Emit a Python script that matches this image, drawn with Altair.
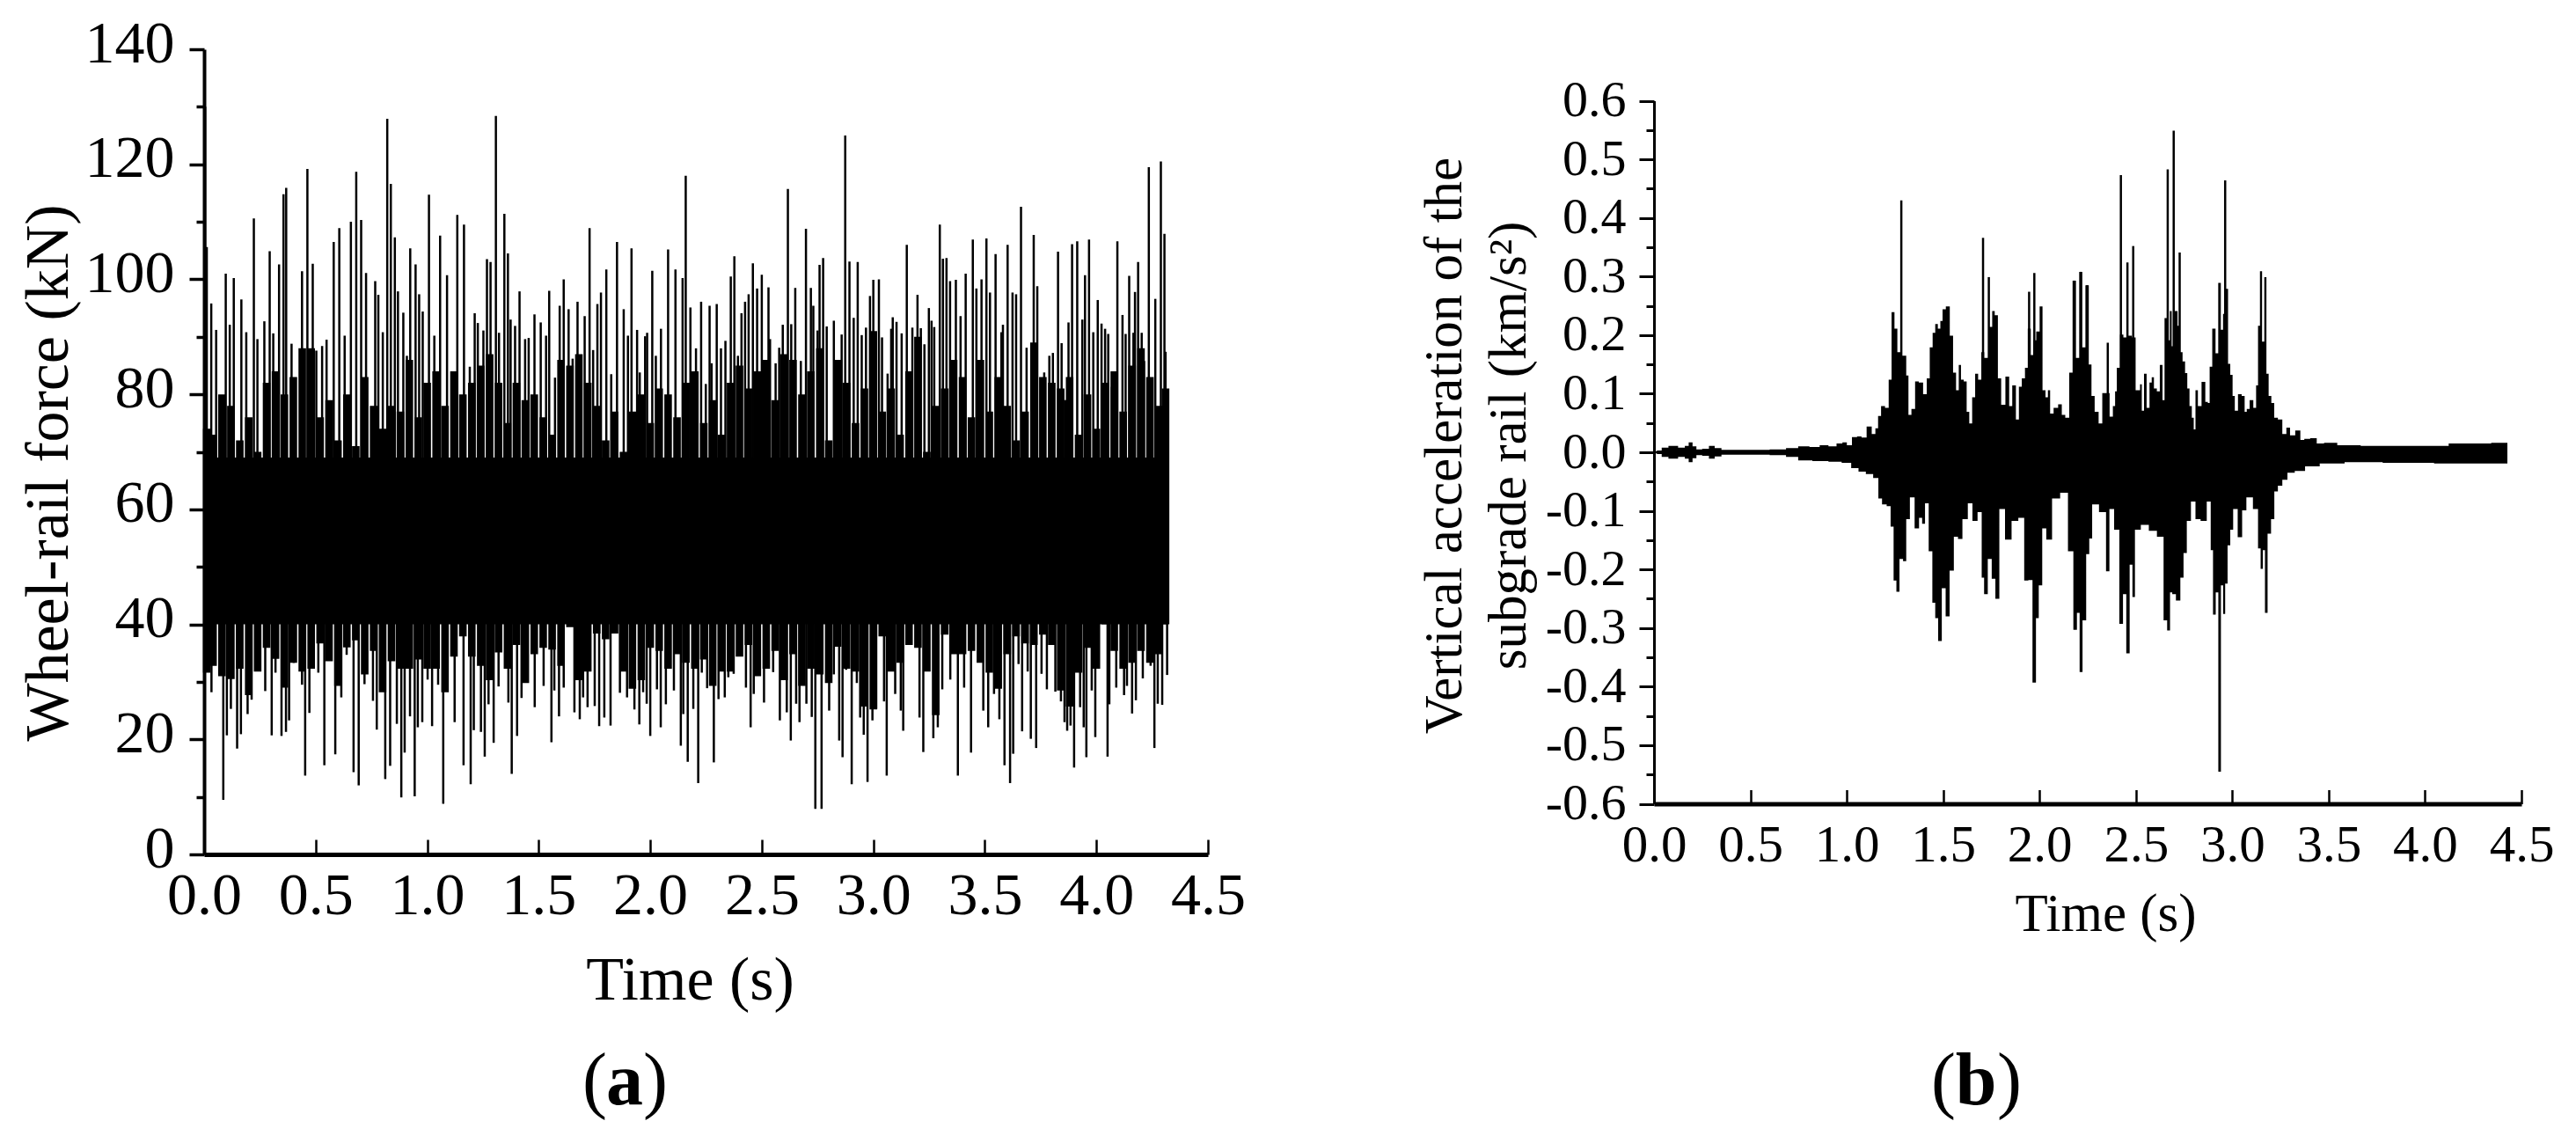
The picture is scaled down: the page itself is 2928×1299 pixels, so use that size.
import altair as alt
import pandas as pd

# ---------- Panel (a): wheel-rail force, peaks ----------
force_peak_time = [0.005,0.012,0.032,0.054,0.097,0.115,0.133,0.167,0.189,0.223,0.239,0.270,0.294,0.310,0.336,0.356,0.368,0.392,0.439,0.463,0.487,0.503,0.529,0.549,0.581,0.606,0.630,0.658,0.682,0.704,0.726,0.767,0.781,0.801,0.821,0.837,0.855,0.869,0.893,0.909,0.924,0.948,0.964,0.980,1.008,1.032,1.058,1.089,1.135,1.165,1.191,1.213,1.227,1.252,1.268,1.284,1.308,1.322,1.346,1.362,1.374,1.394,1.414,1.439,1.455,1.481,1.509,1.533,1.547,1.573,1.594,1.612,1.634,1.652,1.674,1.706,1.728,1.744,1.763,1.779,1.803,1.825,
1.851,1.881,1.900,1.916,1.941,1.953,1.977,1.986,2.009,2.025,2.048,2.080,2.113,2.145,2.159,2.180,2.205,2.228,2.249,2.266,2.275,2.298,2.317,2.337,2.361,2.377,2.393,2.409,2.425,2.441,2.460,2.479,2.500,2.530,2.537,2.562,2.578,2.594,2.617,2.632,2.650,2.675,2.698,2.720,2.731,2.750,2.759,2.775,2.791,2.823,2.845,2.858,2.874,2.893,2.912,2.930,2.948,2.967,2.985,3.000,3.025,3.039,3.064,3.080,3.087,3.104,3.127,3.150,3.175,3.198,3.213,3.229,3.249,3.261,3.273,3.298,3.312,3.328,3.344,3.370,3.391,3.414,3.446,3.462,3.485,3.507,3.523,3.548,3.574,3.581,3.602,3.624,3.640,3.662,3.687,3.719,3.735,3.766,3.789,3.805,3.828,3.844,3.860,3.875,3.891,3.914,3.937,3.949,3.967,3.986,4.006,4.023,4.039,4.053,4.069,4.094,4.117,4.131,4.147,4.166,4.173,4.187,4.203,4.214,4.235,4.264,4.289,4.305,4.310,4.319]
force_peak = [130.0,105.6,95.8,91.2,101.0,92.1,100.2,96.5,90.8,110.6,89.6,92.7,104.9,90.6,102.6,114.8,115.9,88.8,101.4,119.2,102.7,87.6,88.4,89.5,106.5,108.9,90.2,110.0,118.7,110.3,101.1,99.7,97.3,90.8,127.9,116.6,107.3,97.9,94.2,86.7,105.4,102.6,97.4,94.4,114.7,90.2,107.6,100.7,111.2,109.5,84.8,94.1,92.4,91.1,103.5,103.0,128.4,90.7,111.4,104.5,93.0,91.9,97.9,89.6,89.8,93.9,92.5,90.2,98.0,82.9,95.4,100.0,94.8,86.2,96.1,93.6,108.9,87.7,95.7,97.7,101.7,83.5,
106.5,94.8,90.2,105.4,91.2,83.8,90.1,90.7,101.5,86.7,91.4,105.2,101.7,100.2,118.0,95.1,88.0,96.1,81.8,95.4,85.4,95.7,88.0,89.3,100.5,104.0,86.7,94.1,96.1,97.4,102.8,98.4,100.8,98.6,89.6,85.4,88.1,92.1,115.7,92.2,98.5,85.8,108.8,98.5,95.4,91.1,102.5,103.7,91.8,92.8,83.8,90.4,125.0,103.1,93.3,103.0,90.3,91.6,97.1,99.9,100.0,89.9,83.6,91.4,93.4,92.6,90.6,106.0,91.6,97.3,91.5,88.7,95.0,92.8,91.7,109.5,103.6,103.7,99.7,99.9,93.6,101.0,106.9,98.4,100.0,107.1,97.7,104.4,90.8,92.1,106.0,97.7,97.4,112.6,88.1,107.7,98.8,83.8,86.7,87.2,104.8,88.9,79.0,92.5,106.1,106.6,93.0,100.7,106.9,90.8,96.4,92.3,91.4,90.5,81.3,106.6,93.8,90.5,100.6,90.7,97.8,103.0,90.7,85.8,119.5,96.6,120.5,107.9,87.4,79.1]
force_dip_time = [0.033,0.086,0.102,0.120,0.148,0.165,0.195,0.213,0.274,0.303,0.320,0.347,0.367,0.381,0.402,0.439,0.453,0.472,0.512,0.539,0.588,0.615,0.639,0.670,0.693,0.719,0.757,0.774,0.812,0.834,0.864,0.884,0.899,0.923,0.944,0.958,0.978,1.002,1.022,1.049,1.072,1.123,1.163,1.195,1.209,1.241,1.258,1.275,1.298,1.320,1.364,1.379,1.403,1.423,1.482,1.522,1.557,1.570,1.591,1.612,1.660,1.684,1.699,1.719,1.751,1.771,1.794,1.822,1.864,1.896,1.929,1.951,1.968,1.984,2.000,2.030,2.047,2.070,2.106,2.137,2.148,2.168,
2.193,2.215,2.231,2.255,2.285,2.306,2.334,2.350,2.374,2.429,2.450,2.464,2.510,2.551,2.581,2.612,2.630,2.654,2.669,2.700,2.724,2.740,2.768,2.802,2.823,2.847,2.862,2.878,2.903,2.926,2.941,2.957,2.974,2.996,3.013,3.048,3.060,3.098,3.123,3.134,3.207,3.224,3.269,3.289,3.309,3.345,3.379,3.407,3.438,3.493,3.515,3.541,3.565,3.588,3.613,3.627,3.651,3.667,3.692,3.706,3.730,3.754,3.778,3.816,3.841,3.857,3.869,3.884,3.900,3.927,3.943,3.955,3.979,3.995,4.050,4.058,4.089,4.124,4.137,4.160,4.177,4.208,4.243,4.260,4.275,4.295,4.317]
force_dip = [28.2,9.5,20.7,25.3,18.4,20.9,24.4,26.9,28.4,20.7,31.6,20.6,21.3,23.3,33.3,29.5,13.7,24.6,31.6,15.5,17.4,27.3,34.7,14.3,12.0,29.6,26.7,21.7,13.1,15.4,22.7,9.9,17.7,24.0,10.1,22.1,23.0,30.4,22.3,29.5,8.8,23.0,15.5,12.2,21.6,21.3,17.0,26.1,19.4,29.2,26.4,14.0,20.6,27.2,25.6,29.3,19.5,28.5,24.0,29.0,24.7,23.5,27.3,25.6,25.8,22.3,23.8,22.4,28.1,27.3,25.2,22.6,28.2,26.2,20.6,28.7,22.1,26.1,28.5,18.9,24.4,16.1,
25.3,12.4,31.6,28.9,16.0,27.0,27.3,30.8,31.4,29.0,22.1,27.9,26.4,31.7,23.3,24.7,19.8,26.2,23.0,26.2,23.9,7.9,7.9,25.0,31.3,19.8,16.9,32.1,12.2,29.8,23.8,20.8,12.6,23.3,25.3,26.6,13.7,27.9,25.0,21.5,23.8,17.8,20.2,22.1,28.7,30.4,13.7,29.0,17.7,25.0,22.1,27.9,23.5,15.5,12.4,17.5,33.1,21.4,31.8,20.1,18.5,31.4,28.7,28.3,26.6,23.0,21.5,22.4,15.1,25.6,22.1,16.9,28.5,20.4,17.0,26.1,29.0,27.7,29.3,24.5,26.8,30.6,32.8,18.5,26.2,26.0,31.2]
band_time = [0.012,0.04,0.08,0.12,0.16,0.20,0.24,0.28,0.32,0.36,0.40,0.44,0.48,0.52,0.56,0.60,0.64,0.68,0.72,0.76,0.80,0.84,0.88,0.92,0.96,1.00,1.04,1.08,1.12,1.16,1.20,1.24,1.28,1.32,1.36,1.40,1.44,1.48,1.52,1.56,1.60,1.64,1.68,1.72,1.76,1.80,1.84,1.88,1.92,1.96,2.00,2.04,2.08,2.12,2.16,2.20,2.24,2.28,2.32,2.36,2.40,2.44,2.48,2.52,2.56,2.60,2.64,2.68,2.72,2.76,2.80,2.84,2.88,2.92,2.96,3.00,3.04,3.08,3.12,3.16,3.20,3.24,3.28,3.32,3.36,3.40,3.44,3.48,3.52,3.56,3.60,3.64,3.68,3.72,3.76,3.80,3.84,3.88,3.92,3.96,4.00,4.04,4.08,4.12,4.16,4.20,4.24,4.28,4.31]
band_high = [74,73,80,78,72,76,70,82,84,80,83,88,88,76,79,72,80,71,83,78,74,78,77,86,76,82,84,78,84,80,82,85,87,82,75,82,79,80,76,73,86,85,87,82,78,72,
77,70,77,80,75,81,80,76,82,84,75,79,73,82,85,81,84,86,79,87,86,80,84,88,72,86,82,75,81,91,77,81,73,84,90,70,78,81,86,83,76,86,77,83,78,72,77,89,83,82,81,83,73,80,74,82,84,77,85,88,83,78,81]
band_low = [31.6,32.8,31,30.5,32.3,27.7,31.8,35.9,34,29,33.3,31.8,32.3,36.7,33.6,29.3,36,37.2,31.3,35.4,28.2,33.6,32.3,32.3,33.9,32.3,32.3,28.2,34.4,37.9,34.4,32.8,30.3,35.1,32.3,36.4,29.8,34.8,35.9,35.6,32.8,39.5,30.3,31.8,38.4,37.4,38.4,31.8,28.8,30.3,35.9,35.4,32.3,34.8,33.3,
32.3,33.9,29.3,31.8,31.8,34.4,36.4,31,32.3,35.4,30.3,34.8,29.3,32.3,31.3,29.8,36.1,32.3,31.8,25.7,25.2,37.9,31.8,33.3,36.4,35.9,31.8,24.2,38.2,34.8,34.8,35.4,33.3,31.6,28.8,34.8,37.9,36.7,36.4,38.2,36.4,28.5,25.7,31.6,35.9,32.3,40,35.4,32.3,33.3,35.4,33.3,34.8,40]
core_time = [0.0, 4.32]
core_high = [69, 69]
core_low = [40, 40]

# ---------- Panel (b): vertical acceleration envelope ----------
accel_up_time = [0.00,0.03,0.05,0.10,0.15,0.17,0.19,0.21,0.23,0.27,0.30,0.33,0.37,0.45,0.55,0.65,0.72,0.776,0.837,0.882,0.928,0.966,0.989,1.012,1.042,1.065,1.088,1.118,1.141,1.156,1.169,1.187,1.210,1.225,1.240,1.255,1.270,1.301,1.316,1.324,1.347,1.362,1.385,1.407,1.423,1.438,1.453,1.465,1.480,1.491,1.503,1.525,1.544,1.559,1.575,1.587,1.598,1.616,1.628,1.643,1.658,1.674,1.689,1.707,1.719,1.750,1.759,1.776,1.792,1.810,1.836,1.849,1.868,1.887,1.899,1.917,1.932,1.946,1.963,1.973,1.993,2.008,2.023,2.039,2.048,2.062,2.084,2.109,2.122,2.145,2.163,2.180,2.198,2.214,2.229,2.247,2.264,2.275,2.297,2.316,2.335,2.354,2.373,
2.388,2.396,2.406,2.429,2.441,2.464,2.495,2.502,2.518,2.525,2.536,2.548,2.563,2.578,2.586,2.601,2.616,2.632,2.644,2.653,2.670,2.682,2.689,2.709,2.723,2.735,2.749,2.761,2.772,2.784,2.796,2.804,2.814,2.829,2.852,2.868,2.878,2.887,2.905,2.921,2.933,2.948,2.956,2.974,2.982,2.997,3.006,3.020,3.039,3.058,3.070,3.080,3.100,3.118,3.129,3.138,3.149,3.160,3.172,3.182,3.195,3.210,3.225,3.248,3.271,3.290,3.309,3.344,3.362,3.385,3.423,3.453,3.499,3.590,3.742,3.894,4.046,4.199,4.259,4.427]
accel_up = [0.002,0.003,0.008,0.011,0.008,0.011,0.017,0.010,0.005,0.006,0.011,0.007,0.004,0.004,0.004,0.005,0.007,0.010,0.009,0.012,0.010,0.015,0.017,0.012,0.026,0.027,0.025,0.044,0.031,0.041,0.062,0.079,0.076,0.124,0.239,0.211,0.171,0.165,0.131,0.064,0.074,0.121,0.119,0.099,0.126,0.179,0.204,0.219,0.211,0.224,0.244,0.249,0.199,0.136,0.106,0.149,0.124,0.121,0.069,0.049,0.094,0.134,0.124,0.171,0.161,0.214,0.241,0.234,0.126,0.081,0.129,0.079,0.114,0.056,0.112,0.126,0.144,0.211,0.166,0.191,0.206,0.249,0.106,0.094,0.106,0.066,0.076,0.082,0.064,0.059,0.136,0.293,0.161,0.308,0.179,0.285,0.150,0.096,0.069,0.049,0.101,0.101,0.061,
0.079,0.104,0.144,0.201,0.196,0.199,0.196,0.106,0.106,0.116,0.071,0.134,0.076,0.119,0.128,0.109,0.104,0.149,0.089,0.229,0.191,0.241,0.181,0.241,0.216,0.171,0.155,0.135,0.109,0.079,0.059,0.039,0.106,0.079,0.120,0.086,0.084,0.146,0.211,0.169,0.289,0.209,0.236,0.279,0.151,0.132,0.096,0.071,0.099,0.096,0.069,0.074,0.089,0.076,0.114,0.216,0.309,0.189,0.299,0.134,0.096,0.084,0.059,0.056,0.031,0.042,0.029,0.037,0.021,0.023,0.024,0.015,0.016,0.012,0.011,0.011,0.011,0.015,0.015,0.016]
accel_down_time = [0.00,0.03,0.05,0.10,0.15,0.17,0.19,0.21,0.23,0.27,0.30,0.33,0.37,0.45,0.55,0.65,0.72,0.776,0.867,0.943,1.004,1.042,1.080,1.118,1.156,1.172,1.194,1.220,1.235,1.251,1.264,1.283,1.301,1.316,1.339,1.365,1.385,1.397,1.415,1.435,1.453,1.465,1.483,1.503,1.523,1.544,1.567,1.587,1.613,1.643,1.661,1.696,1.704,1.721,1.742,1.762,1.780,1.803,1.839,1.871,1.909,1.932,1.952,1.975,1.988,2.004,2.024,2.046,2.084,2.130,2.165,2.186,2.202,2.214,2.232,2.252,2.264,2.282,2.335,2.355,2.370,2.404,2.424,2.442,2.458,2.477,2.487,2.503,2.548,2.586,2.632,2.655,2.669,2.685,
2.692,2.723,2.738,2.756,2.772,2.799,2.819,2.852,2.883,2.893,2.907,2.921,2.934,2.948,2.957,2.969,2.982,2.997,3.012,3.044,3.058,3.088,3.126,3.141,3.153,3.164,3.175,3.191,3.211,3.225,3.248,3.271,3.301,3.347,3.408,3.499,3.666,3.894,4.199,4.427]
accel_down = [-0.002,-0.003,-0.008,-0.011,-0.008,-0.011,-0.017,-0.010,-0.005,-0.006,-0.011,-0.007,-0.004,-0.004,-0.004,-0.005,-0.008,-0.014,-0.015,-0.016,-0.018,-0.027,-0.033,-0.037,-0.044,-0.079,-0.089,-0.092,-0.127,-0.219,-0.238,-0.182,-0.186,-0.114,-0.077,-0.130,-0.112,-0.122,-0.087,-0.169,-0.257,-0.283,-0.322,-0.232,-0.280,-0.202,-0.144,-0.148,-0.114,-0.087,-0.117,-0.102,-0.214,-0.242,-0.182,-0.216,-0.250,-0.097,-0.149,-0.117,-0.112,-0.219,-0.218,-0.393,-0.283,-0.227,-0.130,-0.149,-0.079,-0.069,-0.169,-0.303,-0.274,-0.375,-0.287,-0.174,-0.147,-0.089,-0.102,-0.203,-0.097,-0.132,-0.293,-0.242,-0.343,-0.192,-0.247,-0.132,-0.124,-0.134,-0.144,-0.287,-0.304,-0.239,
-0.242,-0.253,-0.214,-0.172,-0.117,-0.084,-0.114,-0.117,-0.084,-0.167,-0.277,-0.239,-0.545,-0.227,-0.276,-0.224,-0.159,-0.132,-0.097,-0.145,-0.099,-0.077,-0.097,-0.164,-0.199,-0.167,-0.274,-0.139,-0.114,-0.067,-0.057,-0.047,-0.035,-0.032,-0.024,-0.019,-0.017,-0.018,-0.019,-0.019]
accel_spike_time = [1.283,1.707,1.737,1.946,1.973,2.180,2.214,2.247,2.354,2.422,2.456,2.486,2.665,2.696,2.727,2.963]
accel_spike = [0.430,0.366,0.299,0.274,0.306,0.293,0.308,0.285,0.187,0.473,0.324,0.352,0.483,0.549,0.341,0.464]

time_ticks = [0.0,0.5,1.0,1.5,2.0,2.5,3.0,3.5,4.0,4.5]
force_major = [0,20,40,60,80,100,120,140]
force_minor = [10,30,50,70,90,110,130]
accel_major = [-0.6,-0.5,-0.4,-0.3,-0.2,-0.1,0.0,0.1,0.2,0.3,0.4,0.5,0.6]
accel_minor = [-0.55,-0.45,-0.35,-0.25,-0.15,-0.05,0.05,0.15,0.25,0.35,0.45,0.55]

FONT = "Liberation Serif"
W, H = 2912, 1283


def xs(left, right):
    return alt.Scale(domain=[0, 4.5], range=[left, right], nice=False, zero=False)


def ys(dom, bottom, top):
    return alt.Scale(domain=dom, range=[bottom, top], nice=False, zero=False)


def axis_common(**kw):
    return alt.Axis(grid=False, domainColor="black", tickColor="black", labelColor="black",
                    titleColor="black", labelFont=FONT, titleFont=FONT, titleFontWeight="normal",
                    labelOverlap=False, labelFlush=False, labelBound=False, **kw)


def panel(x_scale, y_scale, xaxis, yaxis, x_minor, y_minor, y_title, marks):
    layers = []
    for i, (df, kind, top, bottom, width) in enumerate(marks):
        base = alt.Chart(df)
        m = base.mark_area(color="black", interpolate="step") if kind == "area" else base.mark_rule(color="black", strokeWidth=width)
        if i == 0:
            ex = alt.X("t:Q", scale=x_scale, title="Time (s)", axis=xaxis)
            ey = alt.Y(top + ":Q", scale=y_scale, title=y_title, axis=yaxis)
        else:
            ex = alt.X("t:Q", scale=x_scale, axis=None)
            ey = alt.Y(top + ":Q", scale=y_scale, axis=None)
        layers.append(m.encode(x=ex, y=ey, y2=alt.Y2(bottom + ":Q")))
    # second, label-free axes: upward x ticks and the short y ticks
    layers.append(alt.Chart(pd.DataFrame({"t": [0.0], "v": [y_scale.domain[0]]})).mark_point(opacity=0).encode(
        x=alt.X("t:Q", scale=x_scale, title=None, axis=x_minor),
        y=alt.Y("v:Q", scale=y_scale, title=None, axis=y_minor),
    ))
    return layers


# --- panel (a)
AX0, AX1, AY0, AY1 = 224, 1365, 963, 48
a_x = axis_common(orient="bottom", offset=AY0 - H, values=time_ticks, format=".1f", ticks=False, tickSize=0,
                  domainWidth=5, labelFontSize=68, labelPadding=13, titleFontSize=70,
                  titleX=776, titleY=164, titleBaseline="alphabetic", titleAlign="center")
a_y = axis_common(orient="left", offset=-AX0, values=force_major, tickSize=17, tickWidth=3.5, domainWidth=4,
                  labelFontSize=68, labelPadding=17, labelOffset=-6, titleFontSize=70, titleAngle=270,
                  titleX=-156, titleY=529, titleBaseline="alphabetic", titleAlign="center")
a_xm = axis_common(orient="top", offset=-AY0, values=time_ticks, labels=False, domain=False, tickSize=17, tickWidth=2.5)
a_ym = axis_common(orient="left", offset=-AX0, values=force_minor, labels=False, domain=False, tickSize=9, tickWidth=3.5)

core = pd.DataFrame({"t": core_time, "hi": core_high, "lo": core_low})
band = pd.DataFrame({"t": band_time, "hi": band_high, "lo": band_low})
up = pd.DataFrame({"t": force_peak_time, "hi": force_peak, "base": [60.0] * len(force_peak)})
dn = pd.DataFrame({"t": force_dip_time, "lo": force_dip, "base": [50.0] * len(force_dip)})
a_layers = panel(xs(AX0, AX1), ys([0, 140], AY0, AY1), a_x, a_y, a_xm, a_ym, "Wheel-rail force (kN)", [
    (core, "area", "hi", "lo", None),
    (band, "rule", "hi", "lo", 8.6),
    (up, "rule", "hi", "base", 2.5),
    (dn, "rule", "lo", "base", 2.5),
])

# --- panel (b)
BX0, BX1, BY0, BY1 = 1872, 2858, 905.5, 106.5
b_x = axis_common(orient="bottom", offset=BY0 - H, values=time_ticks, format=".1f", ticks=False, tickSize=0,
                  domainWidth=5, labelFontSize=59, labelPadding=18, titleFontSize=61,
                  titleX=2385, titleY=144, titleBaseline="alphabetic", titleAlign="center")
b_y = axis_common(orient="left", offset=-BX0, values=accel_major, format=".1f", tickSize=17, tickWidth=3, domainWidth=3,
                  labelFontSize=58, labelPadding=15, labelExpr="replace(datum.label, '\u2212', '-')",
                  titleFontSize=61, titleAngle=270, titleX=-220, titleY=498, titleBaseline="alphabetic",
                  titleAlign="center", titleLineHeight=73)
b_xm = axis_common(orient="top", offset=-BY0, values=time_ticks, labels=False, domain=False, tickSize=16, tickWidth=2.5)
b_ym = axis_common(orient="left", offset=-BX0, values=accel_minor, labels=False, domain=False, tickSize=9, tickWidth=3)

aup = pd.DataFrame({"t": accel_up_time, "v": accel_up, "zero": [0.0] * len(accel_up)})
adn = pd.DataFrame({"t": accel_down_time, "v": accel_down, "zero": [0.0] * len(accel_down)})
asp = pd.DataFrame({"t": accel_spike_time, "v": accel_spike, "zero": [0.0] * len(accel_spike)})
b_layers = panel(xs(BX0, BX1), ys([-0.6, 0.6], BY0, BY1), b_x, b_y, b_xm, b_ym,
                 ["Vertical acceleration of the", "subgrade rail (km/s\u00b2)"], [
    (aup, "area", "v", "zero", None),
    (adn, "area", "v", "zero", None),
    (asp, "rule", "v", "zero", 2.5),
])


# --- panel letters: regular parentheses around a bold letter
def letter(text, x, weight="normal", align="center"):
    return alt.Chart(pd.DataFrame({"s": [text]})).mark_text(
        font=FONT, fontSize=84, fontWeight=weight, color="black", align=align, baseline="alphabetic"
    ).encode(text="s:N", x=alt.value(x), y=alt.value(1247))


letters = [
    letter("(", 682, align="right"), letter("a", 702, "bold"), letter(")", 723, align="left"),
    letter("(", 2215, align="right"), letter("b", 2238, "bold"), letter(")", 2262, align="left"),
]

chart = alt.layer(*a_layers, *b_layers, *letters).resolve_scale(
    x="independent", y="independent"
).resolve_axis(x="independent", y="independent").properties(
    width=W, height=H, autosize=alt.AutoSizeParams(type="none"), padding=0, background="white"
).configure_view(stroke=None)

chart.save("out.html", embed_options={"renderer": "svg", "actions": False})
